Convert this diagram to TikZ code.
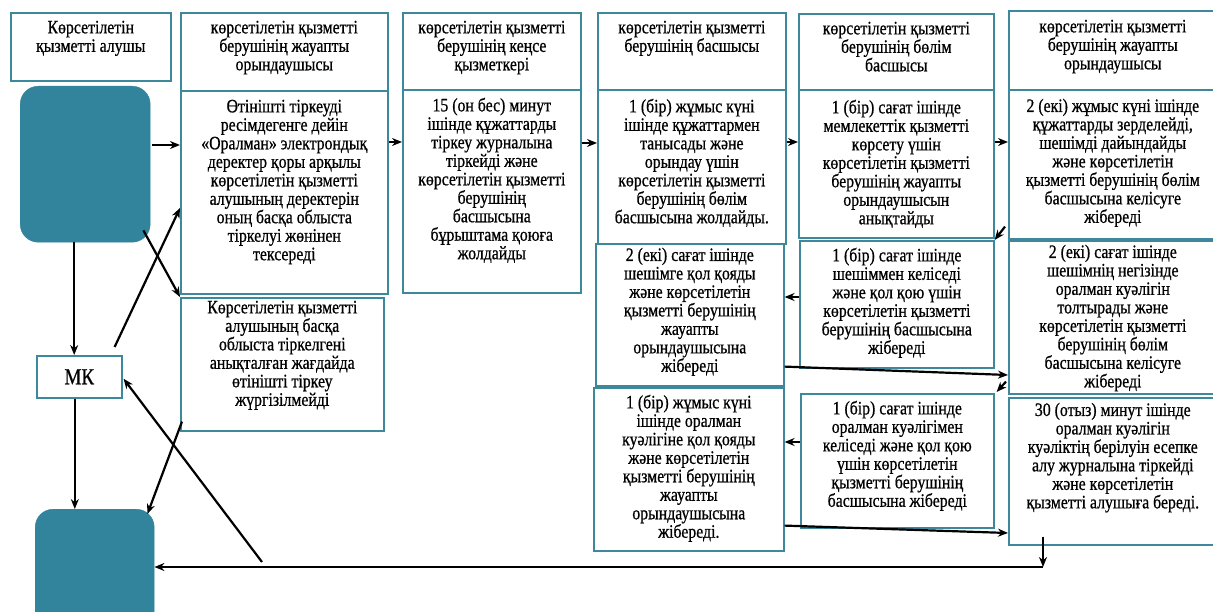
\documentclass[tikz,border=0pt]{standalone}
\usepackage{fontspec}
\setmainfont{Liberation Serif}
\newfontfamily\heavy{Liberation Serif}[FakeBold=0.8]
\usepackage{graphicx}
\usetikzlibrary{arrows.meta,calc}
\definecolor{tealfill}{RGB}{49,132,155}
\definecolor{edgec}{RGB}{62,136,156}
\newcommand{\bxt}[4]{\parbox[c][#2][t]{#1}{\vspace*{#3}\centering\scalebox{1}[1.2]{\parbox[t]{\dimexpr#1-6pt\relax}{\centering\heavy\fontsize{15.8}{15.4}\selectfont #4}}}}
\tikzset{
 box/.style={draw=edgec, line width=1.6pt, inner sep=0pt, anchor=north west},
 blob/.style={fill=tealfill, draw=tealfill, rounded corners=18pt, inner sep=0pt, anchor=north west},
 arr/.style={draw=black, line width=2.2pt, -{Stealth[length=10pt,width=8pt]}},
}
\begin{document}
\begin{tikzpicture}[x=1pt,y=-1pt]
\useasboundingbox (0,0) rectangle (1213,612);
% column 0
\node[box] (h0) at (10,12) {\bxt{160pt}{68pt}{8pt}{Көрсетілетін\\қызметті алушы}};
\node[blob, minimum width=130pt, minimum height=156pt] (t1) at (20,86) {};
\node[box, minimum width=85pt, minimum height=42pt] (mk) at (36,355) {\scalebox{1}[1.2]{\heavy\fontsize{19}{20}\selectfont МК}};
\node[blob, minimum width=119pt, minimum height=125pt] (t2) at (35,509) {};
% column 1
\node[box] (h1) at (180,12) {\bxt{207pt}{78pt}{8pt}{көрсетілетін қызметті\\берушінің жауапты\\орындаушысы}};
\node[box] (b1) at (180,90) {\bxt{207pt}{203pt}{9pt}{Өтінішті тіркеуді\\ресімдегенге дейін\\«Оралман» электрондық\\деректер қоры арқылы\\көрсетілетін қызметті\\алушының деректерін\\оның басқа облыста\\тіркелуі жөнінен\\тексереді}};
\node[box] (c1) at (180,297) {\bxt{203pt}{133pt}{3pt}{Көрсетілетін қызметті\\алушының басқа\\облыста тіркелгені\\анықталған жағдайда\\өтінішті тіркеу\\жүргізілмейді}};
% column 2
\node[box] (h2) at (402,12) {\bxt{178pt}{77pt}{8pt}{көрсетілетін қызметті\\берушінің кеңсе\\қызметкері}};
\node[box] (b2) at (402,89) {\bxt{178pt}{203pt}{8pt}{15 (он бес) минут\\ішінде құжаттарды\\тіркеу журналына\\тіркейді және\\көрсетілетін қызметті\\берушінің\\басшысына\\бұрыштама қоюға\\жолдайды}};
% column 3
\node[box] (h3) at (597,12) {\bxt{188pt}{77pt}{8pt}{көрсетілетін қызметті\\берушінің басшысы}};
\node[box] (b3) at (597,89) {\bxt{188pt}{154pt}{9pt}{1 (бір) жұмыс күні\\ішінде құжаттармен\\танысады және\\орындау үшін\\көрсетілетін қызметті\\берушінің бөлім\\басшысына жолдайды.}};
\node[box] (c3) at (595,243) {\bxt{188pt}{142pt}{4pt}{2 (екі) сағат ішінде\\шешімге қол қояды\\және көрсетілетін\\қызметті берушінің\\жауапты\\орындаушысына\\жібереді}};
\node[box] (d3) at (593,387) {\bxt{190pt}{163pt}{7pt}{1 (бір) жұмыс күні\\ішінде оралман\\куәлігіне қол қояды\\және көрсетілетін\\қызметті берушінің\\жауапты\\орындаушысына\\жібереді.}};
% column 4
\node[box] (h4) at (798,13) {\bxt{195pt}{76pt}{8pt}{көрсетілетін қызметті\\берушінің бөлім\\басшысы}};
\node[box] (b4) at (798,89) {\bxt{195pt}{148pt}{10pt}{1 (бір) сағат ішінде\\мемлекеттік қызметті\\көрсету үшін\\көрсетілетін қызметті\\берушінің жауапты\\орындаушысын\\анықтайды}};
\node[box] (c4) at (799,240) {\bxt{194pt}{127pt}{7pt}{1 (бір) сағат ішінде\\шешіммен келіседі\\және қол қою үшін\\көрсетілетін қызметті\\берушінің басшысына\\жібереді}};
\node[box] (d4) at (800,393) {\bxt{193pt}{134pt}{7pt}{1 (бір) сағат ішінде\\оралман куәлігімен\\келіседі және қол қою\\үшін көрсетілетін\\қызметті берушінің\\басшысына жібереді}};
% column 5
\node[box] (h5) at (1008,10) {\bxt{208pt}{79pt}{9pt}{көрсетілетін қызметті\\берушінің жауапты\\орындаушысы}};
\node[box] (b5) at (1008,89) {\bxt{208pt}{149pt}{9pt}{2 (екі) жұмыс күні ішінде\\құжаттарды зерделейді,\\шешімді дайындайды\\және көрсетілетін\\қызметті берушінің бөлім\\басшысына келісуге\\жібереді}};
\node[box] (c5) at (1008,240) {\bxt{208pt}{153pt}{4pt}{2 (екі) сағат ішінде\\шешімнің негізінде\\оралман куәлігін\\толтырады және\\көрсетілетін қызметті\\берушінің бөлім\\басшысына келісуге\\жібереді}};
\node[box] (d5) at (1008,397) {\bxt{208pt}{147pt}{5pt}{30 (отыз) минут ішінде\\оралман куәлігін\\куәліктің берілуін есепке\\алу журналына тіркейді\\және көрсетілетін\\қызметті алушыға береді.}};
% connectors
\draw[arr] ([shift={(2pt,-59pt)}]t1.north east) -- ([yshift=-55pt]b1.north west);
\draw[arr] ([yshift=-52pt]b1.north east) -- ([yshift=-53pt]b2.north west);
\draw[arr] ([yshift=-54pt]b2.north east) -- ([yshift=-54pt]b3.north west);
\draw[arr] ([yshift=-53pt]b3.north east) -- ([yshift=-53pt]b4.north west);
\draw[arr] ([yshift=-53pt]b4.north east) -- ([yshift=-53pt]b5.north west);
\draw[arr] ([shift={(-3pt,13pt)}]b5.south west) -- (c4.north east);
\draw[arr] ([yshift=-57pt]c4.north west) -- ([yshift=-54pt]c3.north east);
\draw[arr] ([yshift=20pt]c3.south east) -- ([yshift=-135pt]c5.north west);
\draw[arr] ([shift={(-2pt,13pt)}]c5.south west) -- ([shift={(2pt,1pt)}]d4.north east);
\draw[arr] ([yshift=-49pt]d4.north west) -- ([yshift=-55pt]d3.north east);
\draw[arr] ([yshift=26pt]d3.south east) -- ([yshift=-136pt]d5.north west);
\coordinate (turn) at (1043,567);
\draw[arr] ([shift={(35pt,9pt)}]d5.south west) -- (turn);
\draw[arr] (turn) -- (t2.east |- turn);
\draw[arr] ([xshift=-11pt]t1.south) -- ([xshift=-11pt]t1.south |- mk.north);
\draw[arr] ([xshift=-4.5pt]mk.south) -- ([xshift=-4.5pt]mk.south |- t2.north);
\draw[arr] ([shift={(-8pt,8pt)}]mk.north east) -- ([yshift=-118pt]b1.north west);
\draw[arr] ([shift={(-7pt,12pt)}]t1.south east) -- (c1.north west);
\draw[arr] ([shift={(2pt,10pt)}]c1.south west) -- ([shift={(-7pt,-5pt)}]t2.north east);
\coordinate (mkfrom) at (262,562);
\draw[arr] (mkfrom) -- ([shift={(1pt,-2pt)}]mk.east);
\end{tikzpicture}
\end{document}
